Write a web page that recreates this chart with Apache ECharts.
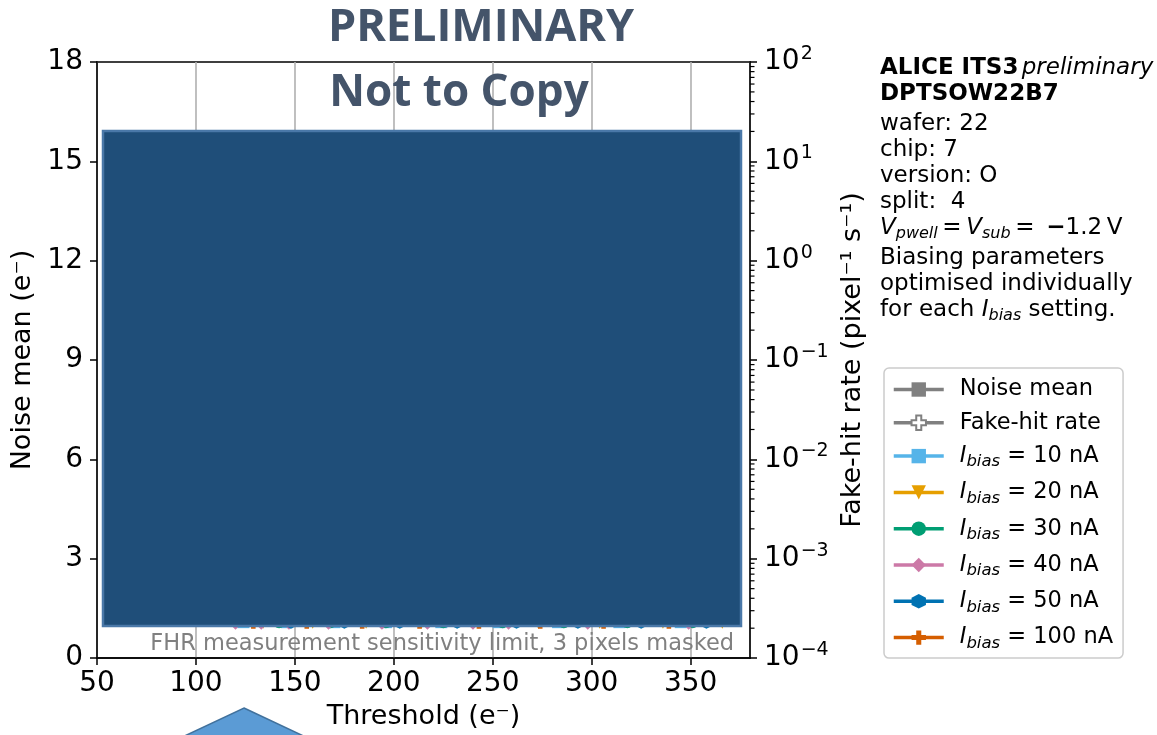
<!DOCTYPE html>
<html><head><meta charset="utf-8">
<script src="https://cdn.jsdelivr.net/npm/echarts@6/dist/echarts.min.js"></script>
<style>html,body{margin:0;padding:0;background:#fff}#c{width:1157px;height:735px}</style>
</head><body><div id="c"></div>
<script>
// ---------- data ----------
const xTickValues = [50, 100, 150, 200, 250, 300, 350];
const noiseTickValues = [0, 3, 6, 9, 12, 15, 18];
const fhrDecadeExponents = [-4, -3, -2, -1, 0, 1, 2];
const fhrMinorMantissas = [2, 3, 4, 5, 6, 7, 8, 9];
const ibiasLabels = ['10', '20', '30', '40', '50', '100'];
const fhrLimit = 2.45e-4;

const thr10 = [64, 83, 103, 124, 146, 170, 196, 224, 253, 283, 314, 345];
const noise10 = [6.3, 6.2, 6.1, 6.1, 6.0, 6.0, 5.9, 5.9, 5.8, 5.8, 5.8, 5.7];
const fhr10 = [5.1, 0.34, 8.2e-3, 2.3e-4, 2.3e-4, 2.3e-4, 2.3e-4, 2.3e-4, 2.3e-4, 2.3e-4, 2.3e-4, 2.3e-4];

const thr20 = [67, 88, 110, 134, 159, 186, 214, 243, 273, 304, 336, 366];
const noise20 = [5.6, 5.5, 5.4, 5.4, 5.3, 5.3, 5.2, 5.2, 5.2, 5.1, 5.1, 5.1];
const fhr20 = [2.4, 0.11, 2.1e-3, 2.3e-4, 2.3e-4, 2.3e-4, 2.3e-4, 2.3e-4, 2.3e-4, 2.3e-4, 2.3e-4, 2.3e-4];

const thr30 = [70, 93, 117, 142, 168, 196, 225, 255, 286, 318, 351];
const noise30 = [5.0, 4.9, 4.9, 4.8, 4.8, 4.7, 4.7, 4.7, 4.6, 4.6, 4.6];
const fhr30 = [1.3, 0.047, 6.3e-4, 2.3e-4, 2.3e-4, 2.3e-4, 2.3e-4, 2.3e-4, 2.3e-4, 2.3e-4, 2.3e-4];

const thr40 = [62, 80, 100, 120, 133, 147, 167, 194, 217, 240, 258, 298, 349];
const noise40 = [4.8, 4.7, 4.6, 4.6, 4.5, 4.5, 4.5, 4.4, 4.4, 4.4, 4.3, 4.3, 4.3];
const fhr40 = [1.9, 0.081, 1.6e-3, 2.3e-4, 2.3e-4, 2.3e-4, 2.3e-4, 2.3e-4, 2.3e-4, 2.3e-4, 2.3e-4, 2.3e-4, 2.3e-4];

const thr50 = [73, 97, 122, 148, 175, 203, 232, 262, 293, 325, 358];
const noise50 = [4.5, 4.4, 4.4, 4.3, 4.3, 4.3, 4.2, 4.2, 4.2, 4.1, 4.1];
const fhr50 = [0.72, 0.021, 3.3e-4, 2.3e-4, 2.3e-4, 2.3e-4, 2.3e-4, 2.3e-4, 2.3e-4, 2.3e-4, 2.3e-4];

const thr100 = [78, 103, 129, 156, 184, 213, 243, 274, 306, 339];
const noise100 = [4.1, 4.0, 4.0, 3.9, 3.9, 3.9, 3.8, 3.8, 3.8, 3.7];
const fhr100 = [0.35, 8.4e-3, 2.3e-4, 2.3e-4, 2.3e-4, 2.3e-4, 2.3e-4, 2.3e-4, 2.3e-4, 2.3e-4];

// ---------- styles ----------
const FONT = 'DejaVu Sans';
const TICK_FS = 28;
const NAME_FS = 27;
const INFO_FS = 23;
const colors = ['#56B4E9', '#E69F00', '#009E73', '#CC79A7', '#0072B2', '#D55E00'];
const hexPath = 'path://M0,-1 L0.866,-0.5 L0.866,0.5 L0,1 L-0.866,0.5 L-0.866,-0.5 Z';
const plusPath = 'path://M-0.35,-1 L0.35,-1 L0.35,-0.35 L1,-0.35 L1,0.35 L0.35,0.35 L0.35,1 L-0.35,1 L-0.35,0.35 L-1,0.35 L-1,-0.35 L-0.35,-0.35 Z';
const symbols = ['rect', 'triangle', 'circle', 'diamond', hexPath, plusPath];
const symbolRot = [0, 180, 0, 0, 0, 0];
const symbolSizes = [12, 13, 12, 15, 13, 13];

const thrs = [thr10, thr20, thr30, thr40, thr50, thr100];
const noises = [noise10, noise20, noise30, noise40, noise50, noise100];
const fhrs = [fhr10, fhr20, fhr30, fhr40, fhr50, fhr100];

const seriesName = l => 'Ibias = ' + l + ' nA';
const series = [];
series.push({ name: 'Noise mean', type: 'line', data: [], color: '#808080',
  symbol: 'rect', symbolSize: 14, lineStyle: { width: 3.5, color: '#808080' }, itemStyle: { color: '#808080' } });
series.push({ name: 'Fake-hit rate', type: 'line', data: [], color: '#808080',
  symbol: plusPath, symbolSize: 16, lineStyle: { width: 3.5, color: '#808080' },
  itemStyle: { color: '#ffffff', borderColor: '#808080', borderWidth: 1.8 } });

ibiasLabels.forEach((l, i) => {
  const base = {
    name: seriesName(l), type: 'line', color: colors[i], symbol: symbols[i],
    symbolRotate: symbolRot[i], symbolSize: symbolSizes[i], showAllSymbol: true,
    lineStyle: { width: 2.5, color: colors[i] }, itemStyle: { color: colors[i] }, z: 2
  };
  series.push(Object.assign({}, base, { yAxisIndex: 0, data: thrs[i].map((x, k) => [x, noises[i][k]]) }));
  series.push(Object.assign({}, base, { yAxisIndex: 1, data: thrs[i].map((x, k) => [x, fhrs[i][k]]) }));
});

// sensitivity limit line
series.push({ name: 'limit', type: 'line', yAxisIndex: 1, data: [], z: 1,
  markLine: { silent: true, symbol: 'none', label: { show: false },
    lineStyle: { color: '#808080', type: [5, 3], width: 3 },
    data: [{ yAxis: fhrLimit }] } });

// minor ticks for the log axis (matplotlib-style)
const minorTicks = [];
fhrDecadeExponents.slice(0, -1).forEach(e => fhrMinorMantissas.forEach(m => minorTicks.push(m * Math.pow(10, e))));
series.push({ name: 'minor', type: 'custom', yAxisIndex: 1, silent: true, clip: false, z: 6,
  data: minorTicks.map(v => [380, v]),
  renderItem: (params, api) => {
    const p = api.coord([api.value(0), api.value(1)]);
    return { type: 'line', shape: { x1: p[0], y1: p[1], x2: p[0] + 4.5, y2: p[1] },
      style: { stroke: '#000', lineWidth: 1.2 } };
  } });

const legendNames = ['Noise mean', 'Fake-hit rate'].concat(ibiasLabels.map(seriesName));

const option = {
  animation: false,
  backgroundColor: '#fff',
  grid: { left: 97, top: 62, width: 653, height: 598, show: true, borderColor: '#000', borderWidth: 1.5, backgroundColor: 'transparent' },
  xAxis: {
    type: 'value', min: 50, max: 380, interval: 50,
    name: 'Threshold (e\u207B)', nameLocation: 'middle', nameGap: 43,
    nameTextStyle: { fontFamily: FONT, fontSize: NAME_FS, color: '#000' },
    axisLine: { lineStyle: { color: '#000', width: 1.5 } },
    axisTick: { show: true, inside: false, length: 7, lineStyle: { color: '#000', width: 1.5 } },
    axisLabel: { fontFamily: FONT, fontSize: TICK_FS, color: '#000', margin: 12, showMaxLabel: false,
      formatter: v => xTickValues.indexOf(v) >= 0 ? String(v) : '' },
    splitLine: { show: true, lineStyle: { color: '#b0b0b0', width: 1.6 } }
  },
  yAxis: [{
    type: 'value', min: 0, max: 18, interval: 3, position: 'left',
    name: 'Noise mean (e\u207B)', nameLocation: 'middle', nameGap: 57, nameRotate: 90,
    nameTextStyle: { fontFamily: FONT, fontSize: NAME_FS, color: '#000' },
    axisLine: { show: true, lineStyle: { color: '#000', width: 1.5 } },
    axisTick: { show: true, inside: false, length: 7, lineStyle: { color: '#000', width: 1.5 } },
    axisLabel: { fontFamily: FONT, fontSize: TICK_FS, color: '#000', margin: 14,
      formatter: v => noiseTickValues.indexOf(v) >= 0 ? String(v) : '' },
    splitLine: { show: false }
  }, {
    type: 'log', logBase: 10, min: 1e-4, max: 100, position: 'right',
    name: 'Fake-hit rate (pixel\u207B\u00B9 s\u207B\u00B9)', nameLocation: 'middle', nameGap: 83, nameRotate: 90,
    nameTextStyle: { fontFamily: FONT, fontSize: NAME_FS, color: '#000' },
    axisLine: { show: true, lineStyle: { color: '#000', width: 1.5 } },
    axisTick: { show: true, inside: false, length: 7, lineStyle: { color: '#000', width: 1.5 } },
    axisLabel: { fontFamily: FONT, color: '#000', margin: 14,
      formatter: v => { const e = Math.round(Math.log10(v)); return '{b|10}{e|' + (e < 0 ? '\u2212' + (-e) : e) + '}'; },
      rich: { b: { fontFamily: FONT, fontSize: TICK_FS, color: '#000' },
              e: { fontFamily: FONT, fontSize: 19, color: '#000', padding: [0, 0, 16, 1] } } },
    splitLine: { show: false }
  },
  ],
  legend: {
    orient: 'vertical', left: 884, top: 368, data: legendNames,
    itemWidth: 50, itemHeight: 18, itemGap: 10.3,
    padding: [10, 10, 6, 8], borderColor: '#cccccc', borderWidth: 1.5, borderRadius: 5, backgroundColor: '#fff',
    selectedMode: false,
    lineStyle: { width: 3.5 },
    formatter: name => {
      if (name.indexOf('Ibias') === 0) return '{i|I}{s|bias}{t| = ' + name.slice(8) + '}';
      return '{n|' + name + '}';
    },
    textStyle: { fontFamily: FONT, fontSize: 22.5, color: '#000',
      rich: {
        n: { fontFamily: FONT, fontSize: 22.5, color: '#000', padding: [0, 0, 0, 11] },
        i: { fontFamily: FONT, fontSize: 22.5, fontStyle: 'italic', color: '#000', padding: [0, 0, 0, 11] },
        s: { fontFamily: FONT, fontSize: 16.5, fontStyle: 'italic', color: '#000', padding: [12, 0, 0, 0] },
        t: { fontFamily: FONT, fontSize: 22.5, color: '#000' }
      } }
  },
  graphic: [
    // overlay cover box
    { type: 'rect', z: 50, shape: { x: 103, y: 131, width: 638, height: 495 },
      style: { fill: '#1F4E79', stroke: '#4A78A8', lineWidth: 2.5 } },
    // arrow at bottom
    { type: 'polygon', z: 50, shape: { points: [[244, 708], [312, 740], [176, 740]] },
      style: { fill: '#5B9BD5', stroke: '#41719C', lineWidth: 1.5 } },
    // sensitivity limit label
    { type: 'text', z: 40, x: 734, y: 644,
      style: { text: 'FHR measurement sensitivity limit, 3 pixels masked', fill: '#808080',
        font: '22.5px "DejaVu Sans"', align: 'right', verticalAlign: 'middle' } },
    // watermark title
    { type: 'text', z: 60, x: 481, y: 28,
      style: { text: 'PRELIMINARY', fill: '#44546A', font: 'bold 45px "Open Sans"', align: 'center', verticalAlign: 'middle' } },
    { type: 'text', z: 60, x: 459, y: 93,
      style: { text: 'Not to Copy', fill: '#44546A', font: 'bold 44px "Open Sans"', align: 'center', verticalAlign: 'middle' } },
    // info block
    { type: 'text', x: 880, y: 68, style: { text: '{b|ALICE ITS3} {it|preliminary}', verticalAlign: 'middle',
        rich: { b: { fontFamily: FONT, fontSize: INFO_FS, fontWeight: 'bold', fill: '#000' },
                it: { fontFamily: FONT, fontSize: INFO_FS, fontStyle: 'italic', fill: '#000' } } } },
    { type: 'text', x: 880, y: 94, style: { text: 'DPTSOW22B7', font: 'bold 23px "DejaVu Sans"', fill: '#000', verticalAlign: 'middle' } },
    { type: 'text', x: 880, y: 124, style: { text: 'wafer: 22', font: '23px "DejaVu Sans"', fill: '#000', verticalAlign: 'middle' } },
    { type: 'text', x: 880, y: 150, style: { text: 'chip: 7', font: '23px "DejaVu Sans"', fill: '#000', verticalAlign: 'middle' } },
    { type: 'text', x: 880, y: 176, style: { text: 'version: O', font: '23px "DejaVu Sans"', fill: '#000', verticalAlign: 'middle' } },
    { type: 'text', x: 880, y: 202, style: { text: 'split:  4', font: '23px "DejaVu Sans"', fill: '#000', verticalAlign: 'middle' } },
    { type: 'text', x: 880, y: 228, style: { text: '{i|V}{s|pwell}{n|\u2009=\u2009}{i|V}{s|sub}{n|\u2009=\u2009 }{m|\u2212}{n|1.2\u2009V}', verticalAlign: 'middle',
        rich: { i: { fontFamily: FONT, fontSize: INFO_FS, fontStyle: 'italic', fill: '#000' },
                s: { fontFamily: FONT, fontSize: 16, fontStyle: 'italic', fill: '#000', padding: [12, 0, 0, 0] },
                n: { fontFamily: FONT, fontSize: INFO_FS, fill: '#000' },
                m: { fontFamily: FONT, fontSize: INFO_FS, fontWeight: 'bold', fill: '#000' } } } },
    { type: 'text', x: 880, y: 258, style: { text: 'Biasing parameters', font: '23px "DejaVu Sans"', fill: '#000', verticalAlign: 'middle' } },
    { type: 'text', x: 880, y: 284, style: { text: 'optimised individually', font: '23px "DejaVu Sans"', fill: '#000', verticalAlign: 'middle' } },
    { type: 'text', x: 880, y: 310, style: { text: '{n|for each }{i|I}{s|bias}{n| setting.}', verticalAlign: 'middle',
        rich: { i: { fontFamily: FONT, fontSize: INFO_FS, fontStyle: 'italic', fill: '#000' },
                s: { fontFamily: FONT, fontSize: 16, fontStyle: 'italic', fill: '#000', padding: [12, 0, 0, 0] },
                n: { fontFamily: FONT, fontSize: INFO_FS, fill: '#000' } } } }
  ],
  series: series
};

const chart = echarts.init(document.getElementById('c'), null, { renderer: 'canvas' });
chart.setOption(option);
</script>
</body></html>
